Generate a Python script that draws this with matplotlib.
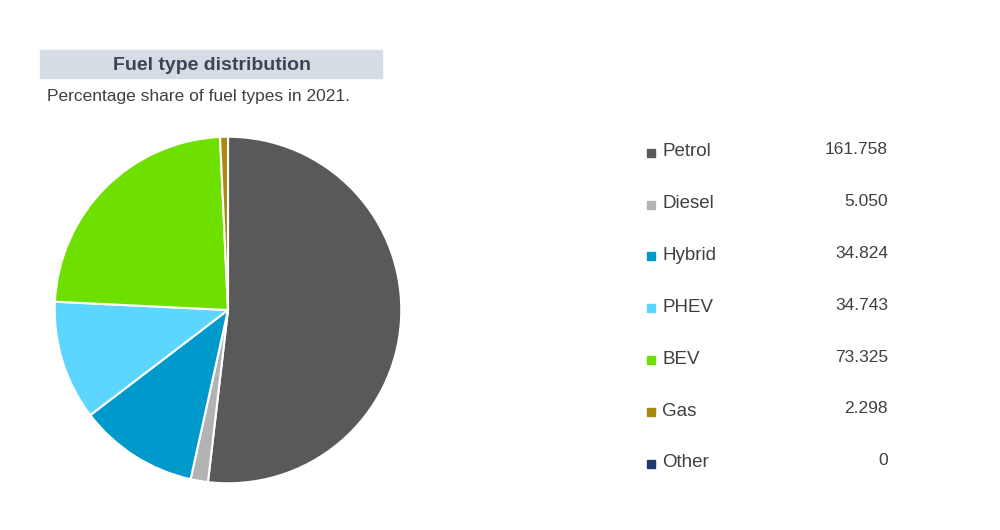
import matplotlib
matplotlib.use("Agg")
import matplotlib.pyplot as plt
from matplotlib.patches import Rectangle

labels = ["Petrol", "Diesel", "Hybrid", "PHEV", "BEV", "Gas", "Other"]
values = [161.758, 5.050, 34.824, 34.743, 73.325, 2.298, 0]
value_text = ["161.758", "5.050", "34.824", "34.743", "73.325", "2.298", "0"]
colors = ["#595959", "#b3b3b3", "#0099cc", "#5cd6ff", "#6ee000", "#a88a10", "#1f3a6e"]

fig = plt.figure(figsize=(10, 5.3), dpi=100)

# pie
ax = fig.add_axes([0.053, 1 - 485 / 530, 0.35, 350 / 530])
ax.pie(values[:-1], colors=colors[:-1], startangle=90, counterclock=False, radius=1,
       wedgeprops=dict(edgecolor="white", linewidth=1.5))
ax.set_xlim(-1.01, 1.01)
ax.set_ylim(-1.01, 1.01)
ax.set_aspect("equal")

# title box
fig.patches.append(Rectangle((0.040, 1 - 78 / 530), 0.342, 28 / 530,
                             transform=fig.transFigure, color="#d6dce4", zorder=0))
fig.text(0.212, 1 - 65 / 530, "Fuel type distribution", ha="center", va="center",
         fontsize=14, fontweight="bold", color="#3a4656", family="Liberation Sans")
fig.text(0.047, 1 - 97 / 530, "Percentage share of fuel types in 2021.", ha="left",
         va="center", fontsize=12.5, color="#404040", family="Liberation Sans")

# legend with values
for i, (lab, txt, c) in enumerate(zip(labels, value_text, colors)):
    y = 1 - (152 + i * 51.8) / 530
    fig.patches.append(Rectangle((0.647, y - 0.009), 0.008, 0.015,
                                 transform=fig.transFigure, color=c))
    fig.text(0.662, y, lab, ha="left", va="center", fontsize=13.5, color="#404040",
             family="Liberation Sans")
    fig.text(0.888, y + 0.004, txt, ha="right", va="center", fontsize=12.5,
             color="#404040", family="Liberation Sans")

fig.savefig("out.png", dpi=100, facecolor="white")
